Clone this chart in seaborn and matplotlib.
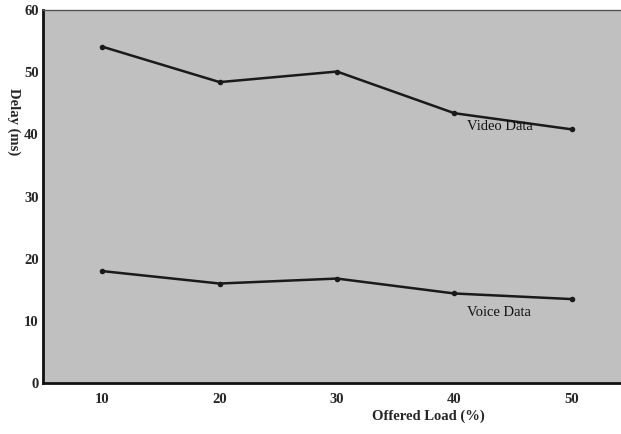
import matplotlib
matplotlib.use("Agg")
import matplotlib.pyplot as plt
import seaborn as sns
import pandas as pd

# Data
offered_load = [10, 20, 30, 40, 50]
video_delay = [54.1, 48.4, 50.1, 43.4, 40.8]
voice_delay = [18.0, 16.0, 16.8, 14.4, 13.5]
series_names = ["Video Data", "Voice Data"]
y_ticks = [0, 10, 20, 30, 40, 50, 60]
x_ticks = [10, 20, 30, 40, 50]

df = pd.DataFrame({
    "load": offered_load * 2,
    "delay": video_delay + voice_delay,
    "series": [series_names[0]] * 5 + [series_names[1]] * 5,
})

sns.set_theme(style="white")
plt.rcParams["font.family"] = ["Liberation Serif", "DejaVu Serif"]

fig = plt.figure(figsize=(6.21, 4.34), dpi=100)
ax = fig.add_axes([43 / 621, 51 / 434, 578 / 621, 373 / 434])
ax.set_facecolor("#c0c0c0")

sns.lineplot(data=df, x="load", y="delay", hue="series",
             palette=["#1a1a1a", "#1a1a1a"], marker="o", markersize=4,
             markeredgewidth=0, linewidth=1.8, legend=False, ax=ax)

ax.set_xlim(4.95, 54.2)
ax.set_ylim(0, 60)
ax.set_xticks(x_ticks)
ax.set_yticks(y_ticks)
ax.set_xticklabels([str(v) for v in x_ticks], fontweight="bold", fontsize=10.5)
ax.set_yticklabels([str(v) for v in y_ticks], fontweight="bold", fontsize=10.5)
ax.tick_params(axis="x", length=2, width=1, color="#111111", pad=5)
ax.tick_params(axis="y", length=1, width=1, color="#111111", pad=2)

ax.set_xlabel("Offered Load (%)", fontweight="bold", fontsize=10.5)
ax.set_ylabel("Delay (ms)", fontweight="bold", fontsize=10.5, rotation=270,
              va="center", ha="center")
ax.xaxis.set_label_coords(0.666, -0.07)
ax.yaxis.set_label_coords(-0.05, 0.70)

for side in ["left", "bottom"]:
    ax.spines[side].set_color("#111111")
    ax.spines[side].set_linewidth(2)
ax.spines["top"].set_color("#555555")
ax.spines["top"].set_linewidth(1)
ax.spines["right"].set_visible(False)

ax.text(41.1, 41.3, series_names[0], fontsize=10.5, va="center", ha="left", color="#111111")
ax.text(41.1, 11.4, series_names[1], fontsize=10.5, va="center", ha="left", color="#111111")

fig.savefig("out.png", dpi=100)
